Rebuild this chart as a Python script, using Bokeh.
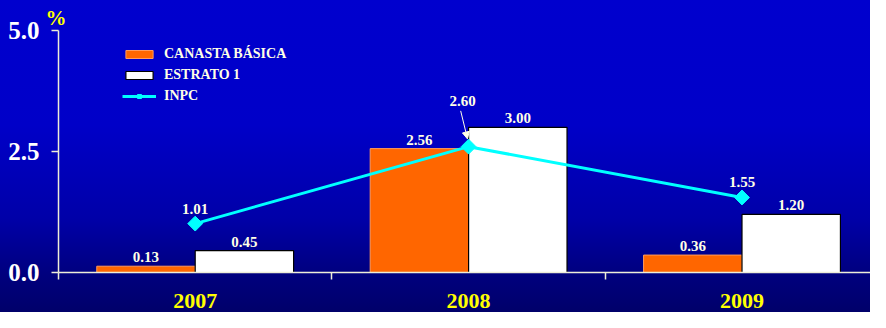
from bokeh.plotting import figure
from bokeh.models import (Range1d, FixedTicker, ColumnDataSource, LabelSet, Legend,
                          LegendItem, Arrow, NormalHead, Title, Label)
from bokeh.core.properties import value
from bokeh.embed import file_html
from bokeh.resources import INLINE
import math

# ---- data ----
years = ["2007", "2008", "2009"]
canasta = [0.13, 2.56, 0.36]
estrato = [0.45, 3.00, 1.20]
inpc = [1.01, 2.60, 1.55]
y_ticks = [0.0, 2.5, 5.0]
y_tick_labels = ["0.0", "2.5", "5.0"]
series_names = ["CANASTA BÁSICA", "ESTRATO 1", "INPC"]

# ---- styling ----
FONT = "Liberation Serif"
CREAM = "#FFFFE6"
ORANGE = "#FF6600"
CYAN = "#00FFFF"
AXIS_COL = "#EDEDD8"
BW = 0.36

centers = [i + 0.5 for i in range(len(years))]
arrow_idx = 1  # the INPC label that is raised and pointed with an arrow

src = ColumnDataSource(dict(
    x=centers,
    xc=[c - BW / 2 for c in centers],
    xe=[c + BW / 2 for c in centers],
    canasta=canasta,
    estrato=estrato,
    inpc=inpc,
    canasta_txt=[f"{v:.2f}" for v in canasta],
    estrato_txt=[f"{v:.2f}" for v in estrato],
))
inpc_src = ColumnDataSource(dict(
    x=[centers[i] for i in range(len(years)) if i != arrow_idx],
    y=[inpc[i] for i in range(len(years)) if i != arrow_idx],
    t=[f"{inpc[i]:.2f}" for i in range(len(years)) if i != arrow_idx],
))

p = figure(width=870, height=312, output_backend="svg", toolbar_location=None,
           x_range=Range1d(0, 2.97), y_range=Range1d(0, 5.0),
           min_border_left=58, min_border_right=0, min_border_top=30, min_border_bottom=40)
p.styles = {"background": "linear-gradient(to bottom, #0000CE 0%, #0000C8 40%, #0000A8 70%, #00007E 88%, #00006A 100%)"}
p.border_fill_color = None
p.background_fill_color = None
p.outline_line_color = None
p.grid.visible = False

# title "%"
p.title = Title(text="%", align="left", offset=-13, standoff=2,
                text_color="#FFFF00", text_font=FONT, text_font_style="bold",
                text_font_size="21px")

# y axis
ya = p.yaxis[0]
ya.ticker = FixedTicker(ticks=y_ticks)
ya.major_label_overrides = {t: l for t, l in zip(y_ticks, y_tick_labels)}
ya.major_tick_out = 7
ya.major_tick_in = 0
ya.minor_tick_out = 0
ya.minor_tick_in = 0
ya.axis_line_color = AXIS_COL
ya.axis_line_width = 1.5
ya.major_tick_line_color = AXIS_COL
ya.major_tick_line_width = 1.5
ya.major_label_text_color = "#FFFFFF"
ya.major_label_text_font = FONT
ya.major_label_text_font_style = "bold"
ya.major_label_text_font_size = "25px"
ya.major_label_standoff = 12

# x axis
xa = p.xaxis[0]
xa.ticker = FixedTicker(ticks=centers, minor_ticks=[float(i) for i in range(len(years) + 1)])
xa.major_label_overrides = {c: y for c, y in zip(centers, years)}
xa.major_tick_out = 0
xa.major_tick_in = 0
xa.minor_tick_out = 7
xa.minor_tick_in = 0
xa.axis_line_color = AXIS_COL
xa.axis_line_width = 1.5
xa.minor_tick_line_color = AXIS_COL
xa.minor_tick_line_width = 1.5
xa.major_label_text_color = "#FFFF00"
xa.major_label_text_font = FONT
xa.major_label_text_font_style = "bold"
xa.major_label_text_font_size = "22px"
xa.major_label_standoff = 14

# bars
r1 = p.vbar(x="xc", top="canasta", bottom=0, width=BW, source=src,
            fill_color=ORANGE, line_color="#FF9A5C", line_width=1)
r2 = p.vbar(x="xe", top="estrato", bottom=0, width=BW, source=src,
            fill_color="#FFFFFF", line_color="#000000", line_width=1.2)
# INPC
r3 = p.line(x="x", y="inpc", source=src, line_color=CYAN, line_width=3)
r4 = p.scatter(x="x", y="inpc", source=src, marker="square", size=10.5, angle=math.pi / 4,
               fill_color=CYAN, line_color=CYAN)

common = dict(text_color=CREAM, text_font_style="bold",
              text_font_size="15px", text_align="center", text_baseline="bottom")
p.add_layout(LabelSet(x="xc", y="canasta", text="canasta_txt", source=src, y_offset=4,
                      text_font=value(FONT), **common))
p.add_layout(LabelSet(x="xe", y="estrato", text="estrato_txt", source=src, y_offset=4,
                      text_font=value(FONT), **common))
p.add_layout(LabelSet(x="x", y="y", text="t", source=inpc_src, y_offset=10,
                      text_font=value(FONT), **common))
p.add_layout(Label(x=centers[arrow_idx], y=inpc[arrow_idx], text=f"{inpc[arrow_idx]:.2f}",
                   x_offset=-6, y_offset=41, text_font=FONT, **common))
p.add_layout(Arrow(x_start=centers[arrow_idx] - 0.029, y_start=inpc[arrow_idx] + 0.74,
                   x_end=centers[arrow_idx] - 0.004, y_end=inpc[arrow_idx] + 0.16,
                   line_color=CREAM, line_width=1,
                   end=NormalHead(size=7, fill_color=CREAM, line_color=CREAM)))

legend = Legend(items=[LegendItem(label=series_names[0], renderers=[r1]),
                       LegendItem(label=series_names[1], renderers=[r2]),
                       LegendItem(label=series_names[2], renderers=[r3, r4])],
                location=(64, 168), orientation="vertical",
                background_fill_alpha=0, border_line_alpha=0,
                label_text_color=CREAM, label_text_font=FONT, label_text_font_style="bold",
                label_text_font_size="14px", glyph_width=34, glyph_height=10,
                label_height=16, spacing=5, padding=0, margin=0, label_standoff=8)
p.add_layout(legend)

open("out.html", "w").write(file_html(p, INLINE))
